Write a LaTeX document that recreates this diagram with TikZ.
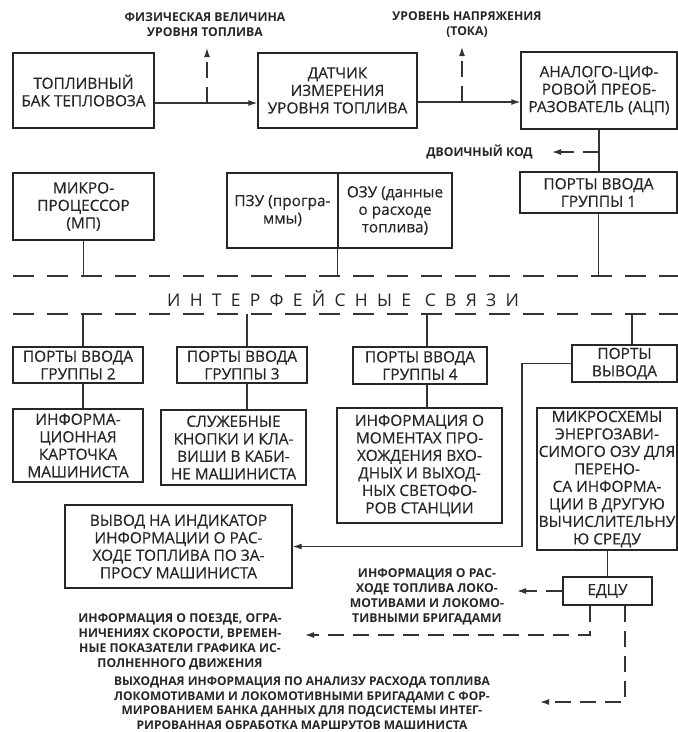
\documentclass[tikz,border=0pt]{standalone}
\usepackage{fontspec}
\setmainfont{Open Sans}[FakeBold=0.4]
\newfontfamily\labfont{Open Sans}
\newfontfamily\spfont{Open Sans}[LetterSpace=53]
\usetikzlibrary{arrows.meta}
\begin{document}
\begin{tikzpicture}[x=1pt,y=-1pt,
  box/.style={draw=black!85, line width=1.3pt, align=center, inner sep=0pt,
    text=black!85, font=\fontsize{15.4}{17.5}\selectfont},
  lab/.style={align=center, inner sep=0pt, text=black!85,
    font=\labfont\bfseries\fontsize{12.2}{15}\selectfont},
  ln/.style={draw=black!80, line width=1.3pt},
  dsh/.style={ln, dash pattern=on 16pt off 9pt},
  iface/.style={ln, dash pattern=on 21pt off 13pt},
  arr/.style={-{Latex[length=9pt,width=6pt]}}]
\useasboundingbox (0,0) rectangle (678,732);
% row 1
\node[box, minimum width=141, minimum height=75] (bak) at (83.5,90.5) {ТОПЛИВНЫЙ\\БАК ТЕПЛОВОЗА};
\node[box, minimum width=159, minimum height=75] (sensor) at (337.5,90.5) {ДАТЧИК\\ИЗМЕРЕНИЯ\\УРОВНЯ ТОПЛИВА};
\node[box, minimum width=156, minimum height=77] (adc) at (599,90.5) {АНАЛОГО-ЦИФ-\\РОВОЙ ПРЕОБ-\\РАЗОВАТЕЛЬ (АЦП)};
\draw[ln,arr] ([yshift=-12.5pt]bak.east) -- ([yshift=-12.5pt]sensor.west);
\draw[ln,arr] ([yshift=-11.5pt]sensor.east) -- ([yshift=-11.5pt]adc.west);
\coordinate (f1) at (207,103); \coordinate (f1t) at (207,48);
\coordinate (f2) at (462,102); \coordinate (f2t) at (462,47);
\draw[dsh,arr] (f1) -- (f1t);
\draw[dsh,arr] (f2) -- (f2t);
\node[lab] (l1) at (205,25) {ФИЗИЧЕСКАЯ ВЕЛИЧИНА\\УРОВНЯ ТОПЛИВА};
\node[lab] (l2) at (467,24.5) {УРОВЕНЬ НАПРЯЖЕНИЯ\\(ТОКА)};
% row 2
\node[box, minimum width=157, minimum height=41] (p1) at (598.5,192.5) {ПОРТЫ ВВОДА\\ГРУППЫ 1};
\node[box, minimum width=141, minimum height=67] (mp) at (83.5,206.5) {МИКРО-\\ПРОЦЕССОР\\(МП)};
\node[box, minimum width=111, minimum height=75] (pzu) at (282.5,210.5) {ПЗУ (програ-\\ммы)};
\node[box, minimum width=114, minimum height=75] (ozu) at (395,210.5) {ОЗУ (данные\\о расходе\\топлива)};
\draw[ln] (adc.south) -- (adc.south |- p1.north);
\coordinate (dkt) at (552,152);
\draw[dsh,arr] (dkt -| adc.south) -- (dkt);
\node[lab, anchor=east] (dk) at (533,152) {ДВОИЧНЫЙ КОД};
% interface
\coordinate (L1) at (13,276); \coordinate (R1) at (678,276);
\coordinate (L2) at (13,314); \coordinate (R2) at (678,314);
\draw[iface] (L1) -- (R1);
\draw[iface] (L2) -- (R2);
\draw[ln] (mp.south) -- (mp.south |- L1);
\draw[ln] (ozu.south west) -- (ozu.south west |- L1);
\draw[ln] (p1.south) -- (p1.south |- L1);
\node[anchor=west, inner sep=0pt, text=black!85, font=\spfont\fontsize{17.5}{17.5}\selectfont] (ifc) at (167,299) {ИНТЕРФЕЙСНЫЕ СВЯЗИ};
% row 3
\node[box, minimum width=130, minimum height=36] (p2) at (78,365) {ПОРТЫ ВВОДА\\ГРУППЫ 2};
\node[box, minimum width=130, minimum height=36] (p3) at (242,365) {ПОРТЫ ВВОДА\\ГРУППЫ 3};
\node[box, minimum width=134, minimum height=37] (p4) at (420,365.5) {ПОРТЫ ВВОДА\\ГРУППЫ 4};
\node[box, minimum width=105, minimum height=37] (pout) at (624.5,363.5) {ПОРТЫ\\ВЫВОДА};
\node[box, minimum width=130, minimum height=73] (card) at (78,445.5) {ИНФОРМА-\\ЦИОННАЯ\\КАРТОЧКА\\МАШИНИСТА};
\node[box, minimum width=145, minimum height=75] (keys) at (233.5,447.5) {СЛУЖЕБНЫЕ\\КНОПКИ И КЛА-\\ВИШИ В КАБИ-\\НЕ МАШИНИСТА};
\node[box, minimum width=165, minimum height=115] (sig) at (419.5,465.5) {ИНФОРМАЦИЯ О\\МОМЕНТАХ ПРО-\\ХОЖДЕНИЯ ВХО-\\ДНЫХ И ВЫХОД-\\НЫХ СВЕТОФО-\\РОВ СТАНЦИИ};
\node[box, minimum width=140, minimum height=142] (chips) at (607,479) {МИКРОСХЕМЫ\\ЭНЕРГОЗАВИ-\\СИМОГО ОЗУ ДЛЯ\\ПЕРЕНО-\\СА ИНФОРМА-\\ЦИИ В ДРУГУЮ\\ВЫЧИСЛИТЕЛЬНУ\\Ю СРЕДУ};
\node[box, minimum width=227, minimum height=83] (out) at (178.5,546.5) {ВЫВОД НА ИНДИКАТОР\\ИНФОРМАЦИИ О РАС-\\ХОДЕ ТОПЛИВА ПО ЗА-\\ПРОСУ МАШИНИСТА};
\node[box, minimum width=89, minimum height=28] (edcu) at (607.5,591) {ЕДЦУ};
\coordinate (v2) at (83,314); \coordinate (v3) at (247,314);
\coordinate (v4) at (427,314); \coordinate (v5) at (632,314);
\draw[ln] (v2) -- (v2 |- p2.north);
\draw[ln] (v2 |- p2.south) -- (v2 |- card.north);
\draw[ln] (v3) -- (v3 |- p3.north);
\draw[ln] (v3 |- p3.south) -- (v3 |- keys.north);
\draw[ln] (v4) -- (v4 |- p4.north);
\draw[ln] (v4 |- p4.south) -- (v4 |- sig.north);
\draw[ln] (v5) -- (v5 |- pout.north);
\coordinate (bend) at (522,363.5);
\draw[ln,arr] (pout.west) -- (bend) -- (bend |- out.east) -- (out.east);
\draw[ln] (chips.south -| edcu.north) -- (edcu.north);
% ЕДЦУ outputs
\coordinate (e1t) at (517,591);
\draw[dsh,arr] (edcu.west) -- (e1t);
\node[lab] (le1) at (427,596.5) {ИНФОРМАЦИЯ О РАС-\\ХОДЕ ТОПЛИВА ЛОКО-\\МОТИВАМИ И ЛОКОМО-\\ТИВНЫМИ БРИГАДАМИ};
\coordinate (e2c) at (590,635); \coordinate (e2t) at (305,635);
\draw[dsh,arr] (e2c |- edcu.south) -- (e2c) -- (e2t);
\node[lab] (le2) at (180,641.5) {ИНФОРМАЦИЯ О ПОЕЗДЕ, ОГРА-\\НИЧЕНИЯХ СКОРОСТИ, ВРЕМЕН-\\НЫЕ ПОКАЗАТЕЛИ ГРАФИКА ИС-\\ПОЛНЕННОГО ДВИЖЕНИЯ};
\coordinate (e3c) at (625,702); \coordinate (e3t) at (540,702);
\draw[dsh,arr] (e3c |- edcu.south) -- (e3c) -- (e3t);
\node[lab, font=\labfont\bfseries\fontsize{12}{14.5}\selectfont] (le3) at (302,703) {ВЫХОДНАЯ ИНФОРМАЦИЯ ПО АНАЛИЗУ РАСХОДА ТОПЛИВА\\ЛОКОМОТИВАМИ И ЛОКОМОТИВНЫМИ БРИГАДАМИ С ФОР-\\МИРОВАНИЕМ БАНКА ДАННЫХ ДЛЯ ПОДСИСТЕМЫ ИНТЕГ-\\РИРОВАННАЯ ОБРАБОТКА МАРШРУТОВ МАШИНИСТА};
\end{tikzpicture}
\end{document}
